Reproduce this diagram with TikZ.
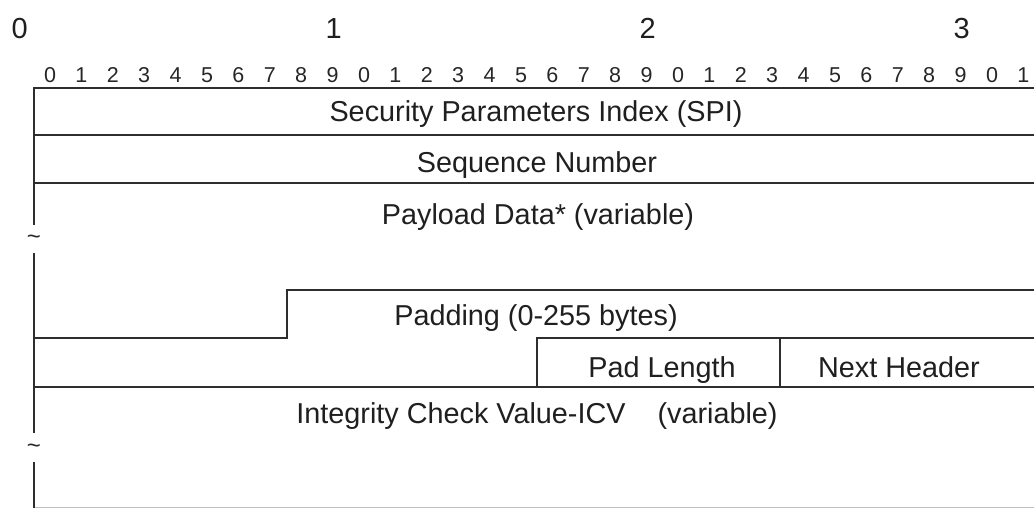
\documentclass[tikz,border=0pt]{standalone}
\usepackage{fontspec}
\setmainfont{Liberation Sans}
\begin{document}
\begin{tikzpicture}[x=1pt,y=-1pt,
  rule/.style={line width=2.2pt, draw=black!82, line join=miter},
  label/.style={font=\fontsize{28.8}{32}\selectfont, inner sep=0pt, anchor=base, text=black!88},
  bitnum/.style={font=\fontsize{21.5}{23}\selectfont, inner sep=0pt, anchor=base, text=black!85},
  octet/.style={font=\fontsize{29}{30}\selectfont, inner sep=0pt, anchor=base, text=black!88},
  gapmark/.style={font=\fontsize{24}{24}\selectfont, inner sep=0pt, text=black!85}]

\useasboundingbox (0,0) rectangle (1034,508);

% octet numbers and bit numbers
\foreach \k in {0,...,3}
  \node[octet] (oct\k) at ({50+31.4*(10*\k-1)+1},38.5) {\k};
\foreach \i in {0,...,31} {
  \pgfmathtruncatemacro{\d}{mod(\i,10)}
  \node[bitnum] (bit\i) at ({50+31.4*\i},83) {\d};
}

% field boundaries
\draw[rule] (34,88) -- (1036,88);
\draw[rule] (34,135) -- (1036,135);
\draw[rule] (34,183) -- (1036,183);
\draw[rule] (34,338) -- (287,338) -- (287,290) -- (1036,290);
\draw[rule] (537,387) -- (537,338) -- (1036,338);
\draw[rule] (780,338) -- (780,387);
\draw[rule] (34,387) -- (1036,387);
\draw[line width=1pt, draw=black!25] (34,507.5) -- (1036,507.5);

% left edge, broken where fields have variable length
\draw[rule] (34,87) -- (34,225);
\draw[rule] (34,253) -- (34,433);
\draw[rule] (34,462) -- (34,510);
\node[gapmark] (gap1) at (34,240) {\textasciitilde};
\node[gapmark] (gap2) at (34,449) {\textasciitilde};

% field labels
\node[label] (spi) at (536,122) {Security Parameters Index (SPI)};
\node[label] (seq) at (537,172) {Sequence Number};
\node[label] (payload) at (538,225) {Payload Data* (variable)};
\node[label] (padding) at (536,325) {Padding (0-255 bytes)};
\node[label] (padlen) at (662,377) {Pad Length};
\node[label] (nexthdr) at (899,377) {Next Header};
\node[label] (icv) at (537,423) {Integrity Check Value-ICV\ \ \ \ (variable)};
\end{tikzpicture}
\end{document}
